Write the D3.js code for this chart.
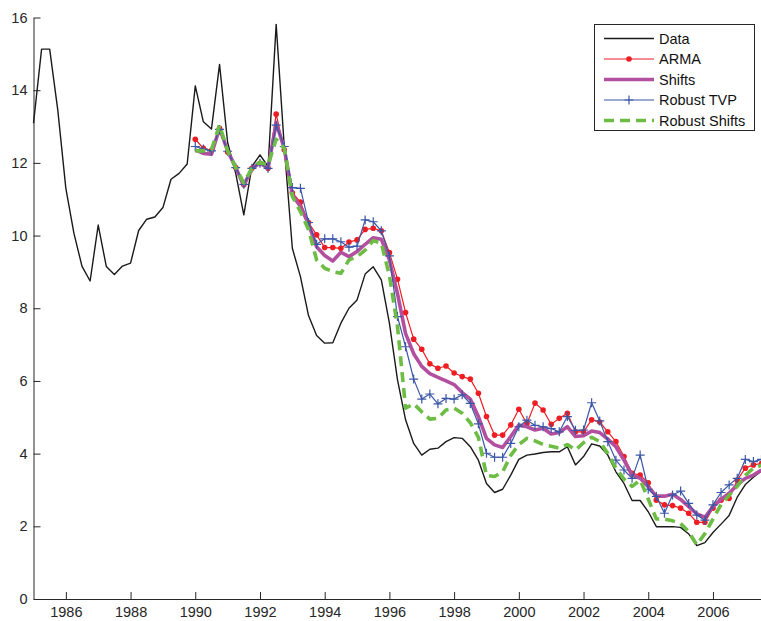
<!DOCTYPE html>
<html>
<head>
<meta charset="utf-8">
<script src="https://cdn.jsdelivr.net/npm/d3@7/dist/d3.min.js"></script>
<style>
  html, body { margin: 0; padding: 0; background: #fff; }
  svg { display: block; font-family: "Liberation Sans", Arial, Helvetica, sans-serif; }
</style>
</head>
<body>
<svg id="chart" width="761" height="621"></svg>
<script>
// Quarterly series: observed data from 1985Q1, forecasts from 1990Q1
const dataStart = 1985;
const fcStart = 1990;

const dataValues = [
  13.09, 15.13, 15.13, 13.46,
  11.3, 10.06, 9.15, 8.75,
  10.29, 9.15, 8.93, 9.16,
  9.24, 10.14, 10.45, 10.51,
  10.77, 11.55, 11.71, 11.97,
  14.12, 13.13, 12.93, 14.71,
  12.56, 11.71, 10.57, 11.9,
  12.22, 11.9, 15.81, 12.45,
  9.65, 8.87, 7.8, 7.25,
  7.04, 7.05, 7.59, 8.0,
  8.23, 8.94, 9.14, 8.78,
  7.59, 6.03, 4.93, 4.28,
  3.96, 4.12, 4.15, 4.33,
  4.44, 4.42, 4.19, 3.82,
  3.18, 2.93, 3.02, 3.41,
  3.84, 3.96, 3.99, 4.03,
  4.05, 4.05, 4.19, 3.69,
  3.92, 4.27, 4.21, 3.96,
  3.5, 3.18, 2.71, 2.71,
  2.40, 1.99, 1.99, 1.99,
  1.97, 1.79, 1.47, 1.55,
  1.83, 2.06, 2.3, 2.8,
  3.15, 3.35, 3.52
];

const armaValues = [
  12.65, 12.4, 12.34, 12.95,
  12.3, 11.87, 11.4, 11.85,
  11.99, 11.85, 13.34, 12.36,
  11.18, 10.92, 10.36, 10.02,
  9.67, 9.67, 9.65, 9.82,
  9.88, 10.17, 10.2, 10.13,
  9.53, 8.8, 7.88, 7.15,
  6.87, 6.47, 6.35, 6.41,
  6.22, 6.12, 6.05, 5.66,
  5.02, 4.51, 4.51, 4.79,
  5.22, 4.82, 5.39, 5.2,
  4.81, 4.97, 5.11, 4.6,
  4.6, 4.93, 4.87, 4.6,
  4.33, 3.92, 3.46, 3.41,
  3.2, 2.72, 2.59, 2.57,
  2.5, 2.36, 2.11, 2.11,
  2.5, 2.72, 2.77, 3.27,
  3.6, 3.69, 3.73
];

const shiftsValues = [
  12.36, 12.26, 12.24, 12.95,
  12.33, 11.87, 11.37, 11.85,
  11.99, 11.85, 13.1, 12.4,
  11.12, 10.8, 10.32, 9.69,
  9.45, 9.3, 9.54, 9.42,
  9.56, 9.76, 9.94, 9.9,
  9.33, 8.4, 7.3, 6.75,
  6.4, 6.2, 6.1, 6.0,
  5.9, 5.68, 5.5, 5.02,
  4.42, 4.24, 4.17, 4.47,
  4.79, 4.74, 4.65, 4.7,
  4.54, 4.58, 4.74, 4.47,
  4.49, 4.62, 4.58, 4.4,
  4.19, 3.82, 3.41, 3.32,
  3.09, 2.83, 2.83, 2.88,
  2.74, 2.54, 2.34, 2.25,
  2.54, 2.74, 2.91, 3.14,
  3.32, 3.41, 3.55
];

const robustTvpValues = [
  12.45, 12.38, 12.33, 12.92,
  12.32, 11.87, 11.41, 11.85,
  11.99, 11.85, 13.04, 12.45,
  11.32, 11.3, 10.36, 9.76,
  9.91, 9.91, 9.83, 9.68,
  9.71, 10.43, 10.38, 10.13,
  9.44, 7.77, 6.94, 6.05,
  5.5, 5.64, 5.37, 5.52,
  5.5, 5.62, 5.38, 4.82,
  4.01, 3.9, 3.9, 4.28,
  4.74, 4.92, 4.78, 4.74,
  4.69, 4.6, 5.02, 4.64,
  4.65, 5.4, 4.9, 4.33,
  3.82, 3.55, 3.32, 3.96,
  3.02, 2.82, 2.36, 2.86,
  2.97, 2.63, 2.31, 2.17,
  2.59, 2.93, 3.14, 3.32,
  3.84, 3.78, 3.84
];

const robustShiftsValues = [
  12.33, 12.33, 12.36, 13.04,
  12.33, 11.87, 11.45, 11.85,
  12.02, 11.94, 12.65, 12.4,
  11.08, 10.66, 10.17, 9.33,
  9.1, 9.01, 8.96, 9.33,
  9.42, 9.6, 9.86, 9.79,
  8.9, 7.5, 5.25, 5.37,
  5.15, 4.95, 4.97, 5.2,
  5.25, 5.11, 4.85, 4.45,
  3.4, 3.37, 3.5, 3.95,
  4.25, 4.42, 4.35, 4.25,
  4.2, 4.15, 4.25, 4.1,
  4.3, 4.45, 4.33, 4.0,
  3.6, 3.3, 3.1, 3.27,
  2.75, 2.2, 2.2, 2.15,
  2.08, 1.85, 1.49, 1.8,
  2.2, 2.6, 2.85, 3.1,
  3.4, 3.6, 3.68
];

const xTicks = [1986, 1988, 1990, 1992, 1994, 1996, 1998, 2000, 2002, 2004, 2006];
const yTicks = [0, 2, 4, 6, 8, 10, 12, 14, 16];
const seriesNames = ["Data", "ARMA", "Shifts", "Robust TVP", "Robust Shifts"];

// quarter index -> fractional year
const toPoints = (vals, start) => vals.map((v, i) => ({ t: start + i / 4, v }));

const series = [
  { name: seriesNames[0], pts: toPoints(dataValues, dataStart), color: "#1a1a1a", width: 1.4 },
  { name: seriesNames[1], pts: toPoints(armaValues, fcStart), color: "#ee1d23", width: 1.2, marker: "dot" },
  { name: seriesNames[2], pts: toPoints(shiftsValues, fcStart), color: "#b34f9f", width: 3.6 },
  { name: seriesNames[3], pts: toPoints(robustTvpValues, fcStart), color: "#3a56a6", width: 1.2, marker: "plus" },
  { name: seriesNames[4], pts: toPoints(robustShiftsValues, fcStart), color: "#6dbd45", width: 3.6, dash: "10,6" }
];

const svg = d3.select("#chart");
const axisColor = "#262626";

const x = d3.scaleLinear().domain([1985, 2007.5]).range([33.5, 761.5]);
const y = d3.scaleLinear().domain([0, 16]).range([599, 17.5]);

// axes (ticks point inward)
const gx = svg.append("g").attr("transform", `translate(0,${y(0)})`)
  .call(d3.axisBottom(x).tickValues(xTicks).tickFormat(d3.format("d")).tickSizeInner(-7).tickSizeOuter(0).tickPadding(8));
const gy = svg.append("g").attr("transform", `translate(${x(1985)},0)`)
  .call(d3.axisLeft(y).tickValues(yTicks).tickSizeInner(-7).tickSizeOuter(0).tickPadding(7));

[gx, gy].forEach(g => {
  g.select(".domain").attr("stroke", axisColor).attr("stroke-width", 1);
  g.selectAll(".tick line").attr("stroke", axisColor).attr("stroke-width", 1);
  g.selectAll(".tick text").attr("fill", axisColor).style("font-size", "14.5px")
    .style("font-family", '"Liberation Sans", Arial, Helvetica, sans-serif');
});
gy.selectAll(".tick text").attr("x", -6);

const line = d3.line().x(d => x(d.t)).y(d => y(d.v));
const plot = svg.append("g");

function drawMarkers(g, pts, s, plusSize) {
  if (s.marker === "dot") {
    g.selectAll("circle").data(pts).join("circle")
      .attr("cx", d => x(d.t)).attr("cy", d => y(d.v)).attr("r", 2.8)
      .attr("fill", s.color);
  } else if (s.marker === "plus") {
    const h = plusSize;
    g.selectAll("path.m").data(pts).join("path").attr("class", "m")
      .attr("d", d => `M${x(d.t) - h},${y(d.v)}H${x(d.t) + h}M${x(d.t)},${y(d.v) - h}V${y(d.v) + h}`)
      .attr("stroke", s.color).attr("stroke-width", 1.2).attr("fill", "none");
  }
}

series.forEach(s => {
  const g = plot.append("g");
  g.append("path").datum(s.pts).attr("d", line)
    .attr("fill", "none").attr("stroke", s.color).attr("stroke-width", s.width)
    .attr("stroke-linejoin", "round")
    .attr("stroke-dasharray", s.dash || null);
  drawMarkers(g, s.pts, s, 4.5);
});

// legend
const lg = svg.append("g");
lg.append("rect").attr("x", 594.5).attr("y", 24.5).attr("width", 160).attr("height", 106)
  .attr("fill", "#fff").attr("stroke", axisColor).attr("stroke-width", 1);
series.forEach((s, i) => {
  const cy = 38.5 + i * 20.5;
  const row = lg.append("g");
  row.append("line").attr("x1", 604).attr("x2", 654).attr("y1", cy).attr("y2", cy)
    .attr("stroke", s.color).attr("stroke-width", s.width).attr("stroke-dasharray", s.dash || null);
  if (s.marker === "dot") {
    row.append("circle").attr("cx", 629).attr("cy", cy).attr("r", 2.8).attr("fill", s.color);
  } else if (s.marker === "plus") {
    row.append("path").attr("d", `M624.5,${cy}H633.5M629,${cy - 4.5}V${cy + 4.5}`)
      .attr("stroke", s.color).attr("stroke-width", 1.2);
  }
  row.append("text").attr("x", 659).attr("y", cy).attr("dy", "0.35em")
    .attr("fill", "#111").style("font-size", "14.5px").text(s.name);
});
</script>
</body>
</html>
